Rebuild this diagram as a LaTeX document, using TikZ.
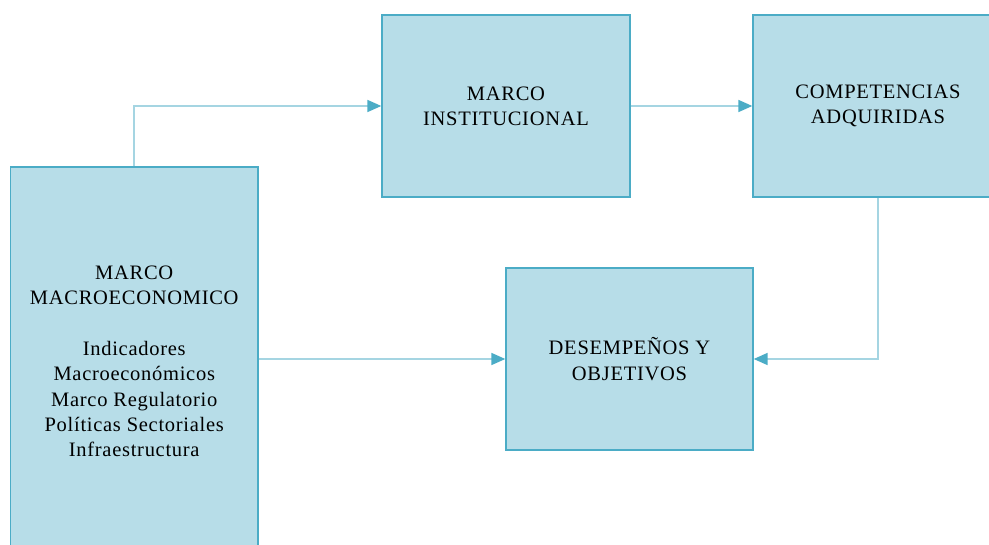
\documentclass[tikz,border=0pt]{standalone}
\usepackage{fontspec}
\setmainfont{Liberation Serif}[LetterSpace=3.5]
\usetikzlibrary{arrows.meta}
\definecolor{boxfill}{HTML}{B7DDE8}
\definecolor{boxline}{HTML}{4BACC6}
\definecolor{connline}{HTML}{A5D5E2}
\tikzset{
  box/.style={draw=boxline, fill=boxfill, line width=1.3pt, align=center, inner sep=0pt,
    font=\fontsize{20.5}{25.3}\selectfont, text=black},
  txt/.style={align=center, inner sep=0pt, font=\fontsize{20.5}{25.3}\selectfont, text=black},
  conn/.style={draw=connline, line width=1.6pt,
    -{Triangle[length=14pt,width=12pt,color=boxline]}}
}
\begin{document}
\begin{tikzpicture}[x=1pt,y=-1pt]
\useasboundingbox (0,0) rectangle (989,545);
\clip (0,0) rectangle (989,545);
\node[box, minimum width=247.5pt, minimum height=384pt] (macro) at (134.25,359) {};
\node[txt] (macrotext) at (134.25,361.5)
  {MARCO\\MACROECONOMICO\\[25.3pt]Indicadores\\Macroeconómicos\\Marco Regulatorio\\Políticas Sectoriales\\Infraestructura};
\node[box, minimum width=248pt, minimum height=182pt] (inst) at (506,106)
  {MARCO\\INSTITUCIONAL};
\node[box, minimum width=250pt, minimum height=182pt] (comp) at (878,106)
  {COMPETENCIAS\\ADQUIRIDAS};
\node[box, minimum width=247pt, minimum height=182pt] (des) at (629.5,359)
  {DESEMPEÑOS Y\\OBJETIVOS};
\draw[conn] (macro.north) |- (inst.west);
\draw[conn] (inst.east) -- (comp.west);
\draw[conn] (comp.south) |- (des.east);
\draw[conn] (macro.east) -- (des.west);
\end{tikzpicture}
\end{document}
